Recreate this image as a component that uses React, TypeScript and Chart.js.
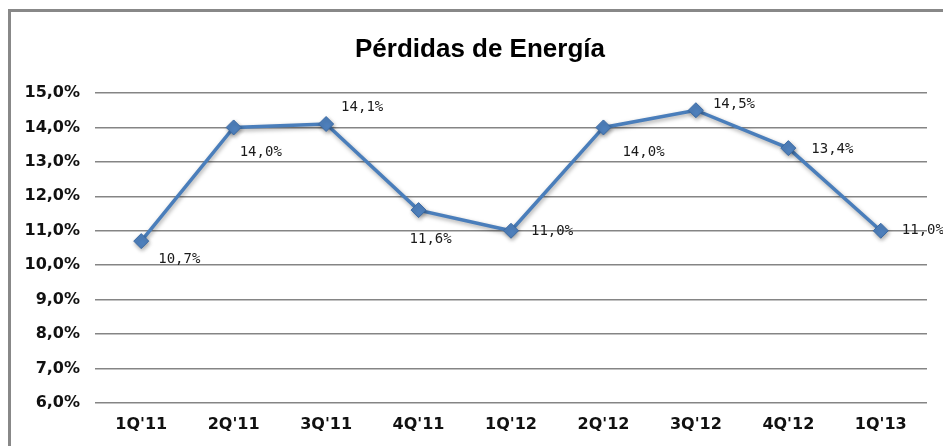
import React, { useEffect, useRef } from "react";
import { Chart, registerables } from "chart.js";

Chart.register(...registerables);

const categories = ["1Q'11", "2Q'11", "3Q'11", "4Q'11", "1Q'12", "2Q'12", "3Q'12", "4Q'12", "1Q'13"];
const lossValues = [10.7, 14.0, 14.1, 11.6, 11.0, 14.0, 14.5, 13.4, 11.0];
const yMin = 6;
const yMax = 15;
const titleText = "Pérdidas de Energía";

// label offsets relative to each point: [dx to left edge, dy to text middle]
const labelOffsets: [number, number][] = [
  [17, 18], [6, 25], [15, -17], [-9, 29], [20, 1], [19, 25], [17, -6], [23, 1], [21, 0],
];

const fmt = (v: number) => v.toFixed(1).replace(".", ",") + "%";

const titlePlugin = {
  id: "customTitle",
  afterDraw(chart: any) {
    const ctx = chart.ctx;
    ctx.save();
    ctx.font = "bold 26px 'Liberation Sans'";
    ctx.fillStyle = "#000";
    ctx.textAlign = "center";
    ctx.textBaseline = "alphabetic";
    ctx.fillText(titleText, 480, 57);
    ctx.restore();
  },
};

const dataLabelPlugin = {
  id: "dataLabels",
  afterDatasetsDraw(chart: any) {
    const ctx = chart.ctx;
    const meta = chart.getDatasetMeta(0);
    ctx.save();
    ctx.font = "14px 'DejaVu Sans Mono'";
    ctx.fillStyle = "#1a1a1a";
    ctx.textAlign = "left";
    ctx.textBaseline = "middle";
    meta.data.forEach((pt: any, i: number) => {
      const [dx, dy] = labelOffsets[i];
      ctx.fillText(fmt(lossValues[i]), pt.x + dx, pt.y + dy);
    });
    ctx.restore();
  },
};

const shadowPlugin = {
  id: "markerShadow",
  beforeDatasetsDraw(chart: any) {
    const ctx = chart.ctx;
    ctx.save();
    ctx.shadowColor = "rgba(0,0,0,0.35)";
    ctx.shadowBlur = 4;
    ctx.shadowOffsetX = 1;
    ctx.shadowOffsetY = 2;
  },
  afterDatasetsDraw(chart: any) {
    chart.ctx.restore();
  },
};

export default function App() {
  const ref = useRef<HTMLCanvasElement | null>(null);

  useEffect(() => {
    if (!ref.current) return;
    const chart = new Chart(ref.current, {
      type: "line",
      data: {
        labels: categories,
        datasets: [
          {
            data: lossValues,
            borderColor: "#4a7ebb",
            borderWidth: 3.5,
            backgroundColor: "#4a7ebb",
            pointStyle: "rectRot",
            pointRadius: 7.5,
            pointBackgroundColor: "#4f81bd",
            pointBorderColor: "#3a6aa5",
            pointBorderWidth: 1,
            tension: 0,
            fill: false,
          },
        ],
      },
      options: {
        animation: false,
        responsive: false,
        maintainAspectRatio: false,
        layout: { padding: { left: 0, right: 16, top: 93, bottom: 0 } },
        plugins: {
          legend: { display: false },
          tooltip: { enabled: false },
          title: { display: false },
        },
        scales: {
          x: {
            offset: true,
            grid: { display: false, drawTicks: false },
            border: { display: false },
            ticks: {
              color: "#111",
              padding: 12,
              font: { family: "'DejaVu Sans'", size: 16, weight: 600 },
              maxRotation: 0,
            },
            afterFit: (s: any) => {
              s.height = 43;
            },
          },
          y: {
            min: yMin,
            max: yMax,
            grid: { color: "#858585", lineWidth: 1.5, drawTicks: false },
            border: { display: false },
            ticks: {
              stepSize: 1,
              color: "#111",
              padding: 15,
              font: { family: "'DejaVu Sans'", size: 16, weight: 600 },
              callback: (v: any) => fmt(Number(v)),
            },
            afterFit: (s: any) => {
              s.width = 95;
            },
          },
        },
      },
      plugins: [shadowPlugin, dataLabelPlugin, titlePlugin],
    });
    return () => chart.destroy();
  }, []);

  return (
    <div style={{ position: "fixed", left: 0, top: 0, width: 943, height: 446, background: "#fff", overflow: "hidden" }}>
      <div
        style={{
          position: "absolute",
          left: 8,
          top: 9,
          right: -10,
          bottom: -10,
          borderTop: "3px solid #888",
          borderLeft: "3px solid #888",
        }}
      />
      <canvas ref={ref} width={943} height={446} style={{ position: "absolute", left: 0, top: 0 }} />
    </div>
  );
}
